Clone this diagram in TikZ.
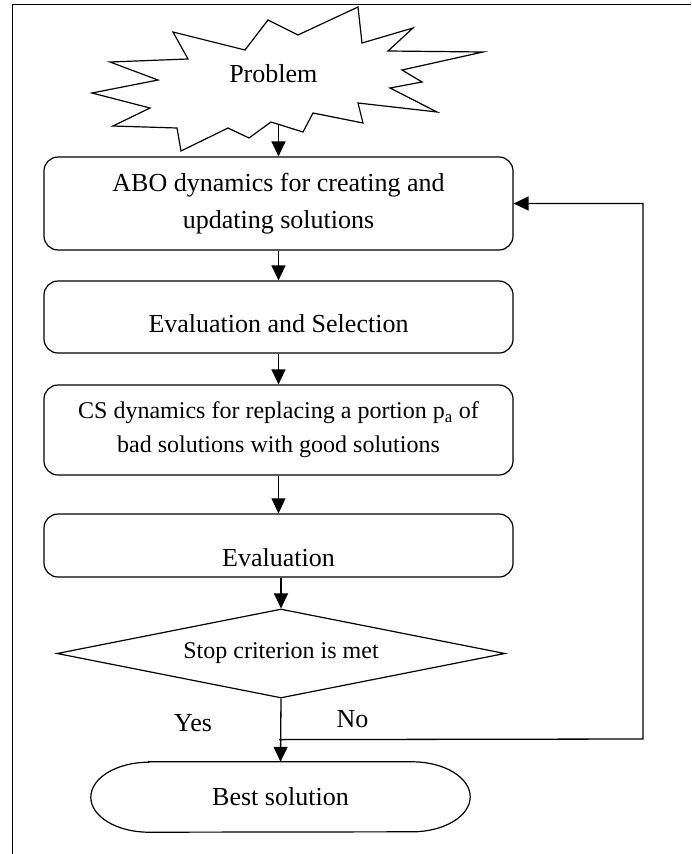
\documentclass[tikz,border=0pt]{standalone}
\usepackage{fontspec}
\setmainfont{Liberation Serif}
\usetikzlibrary{arrows.meta,shapes.geometric,calc}

\tikzset{
procbox/.style={draw, line width=1.2pt, rounded corners=14pt, minimum width=469pt, inner sep=0pt, align=center, font=\fontsize{26}{37}\selectfont},
decision/.style={draw, diamond, aspect=5, line width=1.2pt, minimum width=448pt, minimum height=89pt, inner sep=0pt, font=\fontsize{24}{30}\selectfont},
terminal/.style={minimum width=379pt, minimum height=70pt, inner sep=0pt, font=\fontsize{26}{30}\selectfont},
answer/.style={anchor=base, font=\fontsize{26}{30}\selectfont},
flow/.style={line width=1.3pt, -{Triangle[length=15pt,width=14pt]}},
thinflow/.style={line width=0.8pt, -{Triangle[length=15pt,width=14pt]}},
}

\newcommand{\procnode}[6][]{%
\node[procbox, minimum height=#5pt, #1] (#2) at (#3,#4) {#6};
}

\begin{document}
\begin{tikzpicture}[x=1pt,y=1pt]

\useasboundingbox (0,0) rectangle (691,-854);

\draw[line width=1.5pt] (12.5,-854) -- (12.5,-4.5) -- (691,-4.5);


\draw[line width=1.2pt] (358,-7) -- (362,-43) -- (413,-28) -- (388,-51) -- (483,-52)
  -- (402,-70) -- (422,-82) -- (390,-88) -- (437,-112) -- (358,-103) -- (363,-123)
  -- (313,-113) -- (303,-132) -- (271,-122) -- (249,-138) -- (228,-128) -- (181,-151)
  -- (177,-128) -- (113,-126) -- (150,-108) -- (92,-93) -- (158,-80) -- (110,-62)
  -- (188,-59) -- (173,-32) -- (245,-50) -- (268,-20) -- (298,-35) -- cycle;
\node[answer] (problem) at (273.3,-82) {Problem};
\coordinate (burst) at (278.5,-124.5);


\procnode{abo}{278.5}{-203.5}{93}{ABO dynamics for creating and\\ updating solutions}
\procnode[text height=31pt, text depth=0pt]{evalsel}{278.5}{-317}{72}{Evaluation and Selection}
\procnode[font=\fontsize{24}{34}\selectfont]{cs}{278.5}{-430}{90}{CS dynamics for replacing a portion p\textsubscript{a} of\\ bad solutions with good solutions}
\procnode[text height=41pt, text depth=0pt]{evalone}{278.5}{-545.5}{63}{Evaluation}

\node[decision] (stop) at (281,-653.5) {Stop criterion is met};

\node[terminal] (best) at (280.5,-797) {Best solution};
\draw[line width=1.2pt] ($(best.north west)+(58,0)$) -- ($(best.north east)+(-58,0)$)
  arc[start angle=90, end angle=-90, x radius=58, y radius=35]
  -- ($(best.south west)+(58,0)$)
  arc[start angle=270, end angle=90, x radius=58, y radius=35] -- cycle;


\draw[flow] (burst) -- (abo.north);
\draw[flow] (abo) -- (evalsel);
\draw[flow] (evalsel) -- (cs);
\draw[thinflow] (cs) -- (evalone);
\draw[flow] (evalone.south -| stop.north) -- (stop.north);
\draw[flow] (stop.south) -- (best.north);

\coordinate (join) at ($(stop.south)+(-2,-41)$);
\coordinate (turn) at (643,-739);
\draw[flow] (join) -- (turn) |- (abo.east);

\node[answer] (yes) at (193,-731) {Yes};
\node[answer] (no) at (352.5,-727) {No};

\end{tikzpicture}
\end{document}
